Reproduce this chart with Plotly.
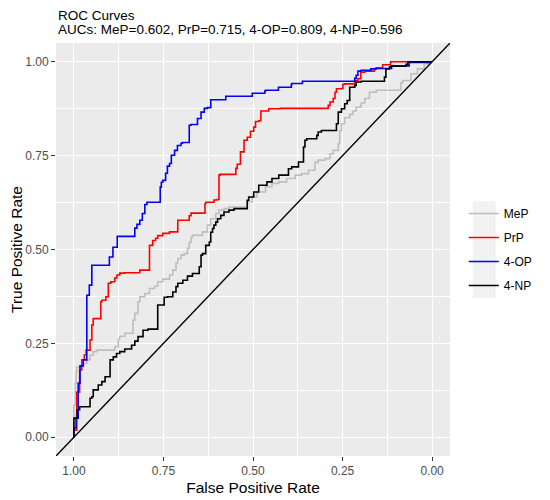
import plotly.graph_objects as go

# ROC curves, x = specificity (axis reversed), y = sensitivity
mep_spec = [1.000, 1.000, 0.996, 0.994, 0.992, 0.983, 0.973, 0.964, 0.955, 0.946, 0.936, 0.886,
            0.876, 0.872, 0.858, 0.835, 0.830, 0.821, 0.816, 0.802, 0.789, 0.775, 0.766, 0.752,
            0.733, 0.724, 0.715, 0.710, 0.701, 0.692, 0.683, 0.678, 0.673, 0.669, 0.659, 0.641,
            0.627, 0.618, 0.604, 0.595, 0.581, 0.567, 0.548, 0.516, 0.502, 0.489, 0.465, 0.447,
            0.428, 0.406, 0.382, 0.364, 0.345, 0.327, 0.318, 0.299, 0.285, 0.276, 0.262, 0.258,
            0.253, 0.244, 0.230, 0.221, 0.212, 0.198, 0.188, 0.175, 0.156, 0.152, 0.087, 0.082,
            0.059, 0.041, 0.022, 0.008, 0.000]
mep_sens = [0.000, 0.086, 0.086, 0.144, 0.174, 0.186, 0.190, 0.197, 0.206, 0.219, 0.228, 0.232,
            0.241, 0.261, 0.269, 0.277, 0.312, 0.330, 0.361, 0.374, 0.383, 0.396, 0.402, 0.414,
            0.421, 0.432, 0.445, 0.464, 0.476, 0.485, 0.489, 0.503, 0.519, 0.532, 0.538, 0.538,
            0.547, 0.565, 0.582, 0.596, 0.605, 0.609, 0.613, 0.613, 0.627, 0.640, 0.653, 0.667,
            0.676, 0.680, 0.689, 0.698, 0.702, 0.711, 0.732, 0.738, 0.742, 0.755, 0.764, 0.782,
            0.817, 0.835, 0.851, 0.860, 0.869, 0.879, 0.890, 0.902, 0.919, 0.924, 0.924, 0.944,
            0.950, 0.968, 0.981, 0.995, 1.000]

prp_spec = [1.000, 0.996, 0.992, 0.992, 0.984, 0.984, 0.978, 0.978, 0.971, 0.966, 0.955, 0.950,
            0.946, 0.938, 0.925, 0.922, 0.911, 0.904, 0.897, 0.886, 0.880, 0.872, 0.858, 0.816,
            0.789, 0.789, 0.780, 0.772, 0.766, 0.752, 0.733, 0.710, 0.706, 0.678, 0.673, 0.634,
            0.632, 0.609, 0.600, 0.595, 0.592, 0.548, 0.544, 0.535, 0.525, 0.516, 0.507, 0.498,
            0.493, 0.484, 0.478, 0.456, 0.424, 0.290, 0.285, 0.276, 0.271, 0.267, 0.262, 0.249,
            0.244, 0.216, 0.207, 0.199, 0.196, 0.188, 0.161, 0.156, 0.138, 0.138, 0.116, 0.115,
            0.000]
prp_sens = [0.000, 0.019, 0.019, 0.120, 0.120, 0.160, 0.179, 0.197, 0.206, 0.219, 0.232, 0.259,
            0.299, 0.316, 0.316, 0.361, 0.365, 0.374, 0.410, 0.414, 0.424, 0.432, 0.437, 0.438,
            0.445, 0.501, 0.511, 0.524, 0.530, 0.537, 0.543, 0.547, 0.578, 0.578, 0.590, 0.597,
            0.622, 0.626, 0.632, 0.633, 0.698, 0.700, 0.716, 0.727, 0.760, 0.791, 0.799, 0.815,
            0.826, 0.841, 0.843, 0.869, 0.875, 0.876, 0.884, 0.893, 0.902, 0.919, 0.928, 0.928,
            0.940, 0.941, 0.950, 0.955, 0.972, 0.972, 0.975, 0.981, 0.984, 0.990, 0.992, 0.999,
            1.000]

op_spec = [1.000, 1.000, 0.994, 0.994, 0.988, 0.988, 0.983, 0.983, 0.974, 0.964, 0.964, 0.957,
           0.957, 0.950, 0.950, 0.901, 0.899, 0.891, 0.891, 0.879, 0.879, 0.830, 0.824, 0.816,
           0.809, 0.809, 0.802, 0.802, 0.796, 0.759, 0.756, 0.752, 0.744, 0.739, 0.733, 0.728,
           0.719, 0.711, 0.701, 0.697, 0.678, 0.673, 0.655, 0.645, 0.636, 0.628, 0.618, 0.618,
           0.576, 0.575, 0.502, 0.498, 0.467, 0.465, 0.429, 0.423, 0.393, 0.392, 0.362, 0.362,
           0.216, 0.212, 0.207, 0.198, 0.171, 0.158, 0.113, 0.110, 0.064, 0.064, 0.004, 0.000]
op_sens = [0.000, 0.025, 0.025, 0.051, 0.051, 0.126, 0.144, 0.179, 0.190, 0.206, 0.378, 0.378,
           0.405, 0.405, 0.458, 0.458, 0.480, 0.480, 0.506, 0.506, 0.535, 0.535, 0.557, 0.567,
           0.578, 0.596, 0.596, 0.612, 0.620, 0.626, 0.666, 0.679, 0.684, 0.703, 0.722, 0.729,
           0.751, 0.764, 0.777, 0.783, 0.785, 0.831, 0.833, 0.849, 0.866, 0.876, 0.878, 0.899,
           0.899, 0.908, 0.908, 0.916, 0.916, 0.922, 0.924, 0.932, 0.932, 0.939, 0.942, 0.948,
           0.948, 0.956, 0.964, 0.975, 0.977, 0.981, 0.982, 0.989, 0.989, 0.996, 0.998, 1.000]

np_spec = [1.000, 1.000, 0.991, 0.984, 0.955, 0.950, 0.946, 0.932, 0.922, 0.913, 0.899, 0.890,
           0.881, 0.872, 0.858, 0.839, 0.830, 0.821, 0.807, 0.793, 0.766, 0.766, 0.748, 0.738,
           0.724, 0.715, 0.710, 0.696, 0.683, 0.669, 0.650, 0.645, 0.641, 0.632, 0.622, 0.618,
           0.613, 0.609, 0.604, 0.599, 0.590, 0.581, 0.567, 0.553, 0.516, 0.512, 0.498, 0.484,
           0.479, 0.461, 0.447, 0.428, 0.401, 0.392, 0.373, 0.359, 0.355, 0.350, 0.322, 0.318,
           0.309, 0.304, 0.267, 0.262, 0.253, 0.244, 0.237, 0.230, 0.216, 0.212, 0.198, 0.133,
           0.129, 0.119, 0.115, 0.073, 0.068, 0.000]
np_sens = [0.000, 0.051, 0.051, 0.073, 0.081, 0.104, 0.108, 0.126, 0.139, 0.148, 0.161, 0.206,
           0.214, 0.223, 0.228, 0.235, 0.245, 0.256, 0.268, 0.285, 0.288, 0.347, 0.352, 0.373,
           0.374, 0.387, 0.401, 0.410, 0.418, 0.429, 0.436, 0.454, 0.485, 0.489, 0.511, 0.520,
           0.546, 0.556, 0.565, 0.573, 0.582, 0.591, 0.600, 0.605, 0.609, 0.631, 0.640, 0.653,
           0.671, 0.671, 0.680, 0.689, 0.698, 0.715, 0.720, 0.733, 0.773, 0.791, 0.795, 0.804,
           0.813, 0.817, 0.817, 0.835, 0.866, 0.875, 0.888, 0.897, 0.932, 0.937, 0.946, 0.948,
           0.959, 0.981, 0.986, 0.988, 0.993, 1.000]

names = ["MeP", "PrP", "4-OP", "4-NP"]
colors = ["#BEBEBE", "#FF0000", "#0000FF", "#000000"]
aucs = [0.602, 0.715, 0.809, 0.596]

tick_vals = [1.0, 0.75, 0.5, 0.25, 0.0]
tick_text = ["1.00", "0.75", "0.50", "0.25", "0.00"]
minor_vals = [0.875, 0.625, 0.375, 0.125]

series = [(mep_spec, mep_sens), (prp_spec, prp_sens), (op_spec, op_sens), (np_spec, np_sens)]

fig = go.Figure()
for (sx, sy), name, col in zip(series, names, colors):
    # stair-step: go up first, then left
    fig.add_trace(go.Scatter(x=sx, y=sy, mode="lines", name=name, legendgroup=name,
                             line=dict(color=col, width=1.6, shape="vh")))

# chance line across the whole panel
fig.add_trace(go.Scatter(x=[1.05, -0.05], y=[-0.05, 1.05], mode="lines",
                         line=dict(color="black", width=1.4), showlegend=False, hoverinfo="skip"))

subtitle = "AUCs: " + ", ".join(f"{n}={a:.3f}" for n, a in zip(names, aucs))

axis_common = dict(
    tickvals=tick_vals, ticktext=tick_text,
    showgrid=True, gridcolor="white", gridwidth=1.4,
    minor=dict(tickvals=minor_vals, showgrid=True, gridcolor="white", gridwidth=0.7, ticks=""),
    ticks="outside", ticklen=4, tickwidth=1.1, tickcolor="#333333",
    zeroline=False, showline=False, automargin=False,
    tickfont=dict(size=12, color="#4D4D4D"),
)

# page body has an 8px margin, so the figure is 8px smaller than the window
fig.update_layout(
    width=542, height=492,
    margin=dict(l=48, r=98, t=35, b=44),
    paper_bgcolor="white", plot_bgcolor="#EBEBEB",
    font=dict(family="Liberation Sans, Arial, sans-serif", color="black"),
    xaxis=dict(range=[1.05, -0.05], title=dict(text="False Positive Rate", font=dict(size=15.5), standoff=4),
               **axis_common),
    yaxis=dict(range=[-0.05, 1.05], title=dict(text="True Positive Rate", font=dict(size=15.5), standoff=4),
               **axis_common),
    legend=dict(x=1.035, y=0.5, xanchor="left", yanchor="middle", tracegroupgap=5,
                font=dict(size=12), bgcolor="rgba(0,0,0,0)"),
    showlegend=True,
)

fig.add_annotation(text="ROC Curves", xref="paper", yref="paper", x=0, y=1.066,
                   xanchor="left", yanchor="middle", showarrow=False, font=dict(size=13.5))
fig.add_annotation(text=subtitle, xref="paper", yref="paper", x=0, y=1.032,
                   xanchor="left", yanchor="middle", showarrow=False, font=dict(size=13.5))

fig.add_shape(type="rect", xref="paper", yref="paper", x0=1.058, x1=1.116, y0=0.383, y1=0.617,
              fillcolor="#F2F2F2", line=dict(width=0), layer="below")

fig.write_html("out.html")
